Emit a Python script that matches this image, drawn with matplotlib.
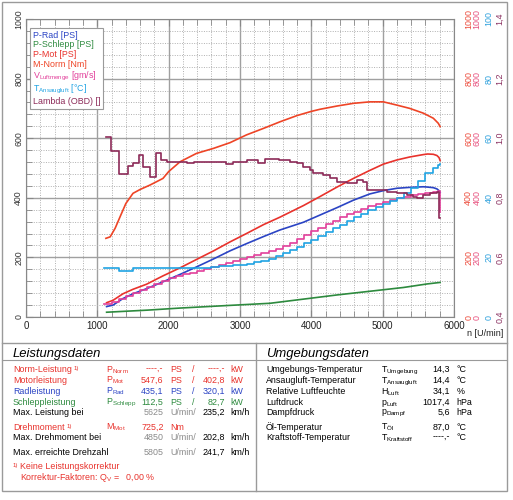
import numpy as np
import matplotlib.pyplot as plt
from matplotlib.lines import Line2D
from matplotlib.patches import Rectangle
from matplotlib.ticker import MultipleLocator, FixedLocator, FuncFormatter

plt.rcParams['font.family'] = ['Liberation Sans', 'DejaVu Sans']
plt.rcParams['mathtext.default'] = 'regular'

# ---- curve data (n in U/min) ----
rpm_m = [1120, 1180, 1250, 1320, 1400, 1500, 1600, 1740, 1920, 2000, 2160, 2390, 2630, 2860,
         3090, 3330, 3560, 3800, 4000, 4120, 4360, 4590, 4820, 5010, 5200, 5380, 5570, 5710,
         5780, 5805]
m_norm = [264, 269, 298, 337, 381, 415, 428, 443, 465, 488, 521, 549, 566, 585,
          611, 633, 655, 676, 690, 697, 708, 717, 722, 722, 711, 700, 684, 667,
          650, 639]

rpm_p = [1130, 1220, 1360, 1500, 1690, 1920, 2160, 2390, 2630, 2860, 3090, 3330, 3560, 3890,
         4120, 4360, 4590, 4820, 5010, 5200, 5380, 5570, 5630, 5710, 5760, 5790, 5805]
p_mot = [48, 56, 78, 93, 110, 138, 165, 193, 222, 252, 280, 310, 335, 374,
         404, 436, 465, 492, 513, 527, 537, 545, 547, 546, 542, 535, 525]
p_rad = [35, 40, 62, 78, 95, 118, 143, 168, 195, 222, 246, 270, 292, 318,
         342, 367, 392, 413, 424, 432, 435, 437, 436, 434, 430, 424, 418]

rpm_s = [1130, 1700, 2160, 2860, 3420, 4360, 5290, 5625, 5805]
p_schlepp = [16, 23, 30, 39, 46, 74, 99, 111, 116]

rpm_step = list(np.arange(1100, 5800, 100)) + [5780, 5800]
luftmenge = [45, 50, 60, 72, 82, 92, 102, 112, 122, 130,
             137, 143, 148, 153, 160, 167, 174, 181, 188, 195,
             202, 208, 214, 220, 228, 238, 250, 262, 275, 288,
             300, 312, 323, 334, 344, 353, 362, 371, 380, 387,
             393, 399, 404, 408, 412, 416, 419, 422, 353]
t_ansaug = [16.3, 16.3, 15.4, 15.4, 16.3, 16.3, 16.3, 16.3, 16.3, 16.3,
            16.3, 16.3, 16.3, 16.3, 16.5, 16.8, 17.0, 17.2, 17.4, 17.6,
            17.9, 18.3, 18.8, 19.6, 20.4, 21.4, 22.5, 23.6, 24.8, 26.0,
            27.3, 28.5, 29.7, 31.0, 32.2, 33.4, 34.6, 35.8, 37.0, 38.0,
            39.0, 40.0, 41.6, 43.3, 45.8, 48.3, 50.0, 51.0, 51.3]

rpm_lam = [1120, 1190, 1300, 1430, 1500, 1590, 1645, 1740, 1820, 1890, 1970, 2250, 2350, 2800,
           2900, 3100, 3250, 3350, 3550, 3700, 3800, 3890, 3980, 4030, 4170, 4260, 4360, 4500,
           4640, 4730, 4780, 4960, 5060, 5200, 5340, 5430, 5480, 5570, 5660, 5760, 5790, 5800]
lam = [1.005, 0.958, 0.880, 0.907, 0.916, 0.943, 0.904, 0.869, 0.951, 0.927, 0.921, 0.916, 0.921, 0.915,
       0.921, 0.926, 0.916, 0.929, 0.926, 0.921, 0.916, 0.902, 0.893, 0.882, 0.876, 0.865, 0.854, 0.851,
       0.860, 0.854, 0.826, 0.826, 0.820, 0.815, 0.809, 0.804, 0.798, 0.809, 0.815, 0.820, 0.731, 0.731]

legend_labels = ['P-Rad [PS]', 'P-Schlepp [PS]', 'P-Mot [PS]', 'M-Norm [Nm]',
                 'V$_{Luftmenge}$ [gm/s]', 'T$_{Ansaugluft}$ [°C]', 'Lambda (OBD) []']

# ---- table data ----
perf_labels = ['Norm-Leistung', 'Motorleistung', 'Radleistung', 'Schleppleistung',
               'Max. Leistung bei', 'Drehmoment', 'Max. Drehmoment bei', 'Max. erreichte Drehzahl']
perf_symbols = ['P$_{Norm}$', 'P$_{Mot}$', 'P$_{Rad}$', 'P$_{Schlepp}$', '', 'M$_{Mot}$', '', '']
perf_values = ['----,-', '547,6', '435,1', '112,5', '5625', '725,2', '4850', '5805']
perf_units = ['PS', 'PS', 'PS', 'PS', 'U/min/', 'Nm', 'U/min/', 'U/min/']
perf_values2 = ['----,-', '402,8', '320,1', '82,7', '235,2', '', '202,8', '241,7']
perf_units2 = ['kW', 'kW', 'kW', 'kW', 'km/h', '', 'km/h', 'km/h']

env_labels = ['Umgebungs-Temperatur', 'Ansaugluft-Temperatur', 'Relative Luftfeuchte', 'Luftdruck',
              'Dampfdruck', 'Öl-Temperatur', 'Kraftstoff-Temperatur']
env_symbols = ['T$_{Umgebung}$', 'T$_{Ansaugluft}$', 'H$_{Luft}$', 'p$_{Luft}$', 'p$_{Dampf}$',
               'T$_{Öl}$', 'T$_{Kraftstoff}$']
env_values = ['14,3', '14,4', '34,1', '1017,4', '5,6', '87,0', '----,-']
env_units = ['°C', '°C', '%', 'hPa', 'hPa', '°C', '°C']

RED = '#e8322c'
TORQ = '#ee4426'
BLUE = '#2b44c4'
GREEN = '#2d8a3e'
PINK = '#e2409b'
CYAN = '#1fa3e3'
LAMC = '#8c2a58'
GRAY = '#8a8a8a'
FRAME = '#9a9a9a'

W, H = 513, 500


def fx(px):
    return px / W


def fy(py):
    return 1 - py / H


fig = plt.figure(figsize=(W / 100, H / 100), dpi=100)
ax = fig.add_axes([fx(26), fy(317), fx(454) - fx(26), fy(19) - fy(317)])
ax.set_xlim(0, 6000)
ax.set_ylim(0, 1000)
ax.xaxis.set_major_locator(MultipleLocator(1000))
ax.xaxis.set_minor_locator(MultipleLocator(200))
ax.yaxis.set_major_locator(MultipleLocator(200))
ax.yaxis.set_minor_locator(MultipleLocator(40))
ax.grid(which='major', color='#a0a0a0', lw=1.0, ls='-')
ax.grid(which='minor', color='#b0b0b0', lw=0.7, ls=(0, (1, 1.5)))
ax.set_axisbelow(True)
ax.tick_params(which='both', direction='in', top=True, right=True, color='#888888')
ax.tick_params(which='major', length=5)
ax.tick_params(which='minor', length=4)
ax.tick_params(axis='x', labelsize=7, pad=3, labelcolor='#222222')
ax.tick_params(axis='y', labelsize=6.3, pad=2, labelcolor='#333333', labelrotation=90)
plt.setp(ax.get_yticklabels(), va='center')
for s in ax.spines.values():
    s.set_color('#888888')

ax.plot(rpm_m, m_norm, color=TORQ, lw=1.2)
ax.plot(rpm_p, p_mot, color=RED, lw=1.2)
ax.plot(rpm_p, p_rad, color=BLUE, lw=1.2)
ax.plot(rpm_s, p_schlepp, color=GREEN, lw=1.2)


def side_axis(pad, color, lo, hi, ticks, fmt):
    t = ax.twinx()
    t.set_ylim(lo, hi)
    t.yaxis.set_major_locator(FixedLocator(ticks))
    t.yaxis.set_major_formatter(FuncFormatter(fmt))
    t.tick_params(axis='y', length=0, pad=pad, labelsize=6.4, labelcolor=color, labelrotation=90)
    plt.setp(t.get_yticklabels(), va='center')
    for s in t.spines.values():
        s.set_visible(False)
    return t


int_fmt = lambda v, p: f'{v:.0f}'
ax_red = side_axis(7.3, '#ec4a3a', 0, 1000, [0, 200, 400, 600, 800, 1000], int_fmt)
ax_pink = side_axis(13.3, '#e8507e', 0, 1000, [0, 200, 400, 600, 800, 1000], int_fmt)
ax_temp = side_axis(21.8, '#2a9fdc', 0, 100, [0, 20, 40, 60, 80, 100], int_fmt)
ax_lam = side_axis(29.8, '#8a3060', 0.4, 1.4, [0.4, 0.6, 0.8, 1.0, 1.2, 1.4],
                   lambda v, p: f'{v:.1f}'.replace('.', ','))

ax_pink.plot(rpm_step, luftmenge, color=PINK, lw=1.2, drawstyle='steps-post')
ax_temp.plot(rpm_step, t_ansaug, color=CYAN, lw=1.2, drawstyle='steps-post')
ax_lam.plot(rpm_lam, lam, color=LAMC, lw=1.2, drawstyle='steps-post')

colors = [BLUE, GREEN, RED, TORQ, PINK, CYAN, LAMC]
handles = [Line2D([], [], color=c, lw=0) for c in colors]
leg = ax_lam.legend(handles, legend_labels, loc='upper left', bbox_to_anchor=(0.009, 0.97),
                    borderaxespad=0, handlelength=0, handletextpad=0, fontsize=6.4,
                    labelspacing=0.08, borderpad=0.3, fancybox=False, framealpha=1,
                    edgecolor=FRAME)
leg.get_frame().set_linewidth(0.8)
for txt, c in zip(leg.get_texts(), colors):
    txt.set_color(c)

fig.text(fx(503), fy(334), 'n [U/min]', ha='right', va='center', fontsize=6.5, color='#222222')

# ---- frames ----
fig.add_artist(Rectangle((fx(2), fy(491)), fx(507) - fx(2), fy(2) - fy(491),
                         transform=fig.transFigure, fill=False, edgecolor=FRAME, lw=1))
fig.add_artist(Line2D([fx(2), fx(507)], [fy(343), fy(343)], color=FRAME, lw=1))
fig.add_artist(Line2D([fx(2), fx(507)], [fy(360), fy(360)], color=FRAME, lw=0.8))
fig.add_artist(Line2D([fx(255.5), fx(255.5)], [fy(343), fy(491)], color=FRAME, lw=1))

fig.text(fx(13), fy(356.5), 'Leistungsdaten', fontsize=9.4, style='italic', va='baseline')
fig.text(fx(266), fy(356.5), 'Umgebungsdaten', fontsize=9.4, style='italic', va='baseline')

# ---- Leistungsdaten ----
row_colors = [RED, RED, BLUE, GREEN, 'black', RED, 'black', 'black']
rows_y = [369.3, 380, 390.7, 401.7, 411.7, 426.7, 437.3, 451.7]
fs = 6.4
for i, y in enumerate(rows_y):
    c = row_colors[i]
    b = fy(y + 3)
    vc = c if c != 'black' else GRAY
    fig.text(fx(13), b, perf_labels[i], color=c, fontsize=fs, va='baseline')
    fig.text(fx(106), b, perf_symbols[i], color=c, fontsize=fs, va='baseline')
    fig.text(fx(163.5), b, perf_values[i], color=vc, fontsize=fs, va='baseline', ha='right')
    fig.text(fx(170), b, perf_units[i], color=vc, fontsize=fs, va='baseline')
    if i < 4:
        fig.text(fx(193), b, '/', color=c, fontsize=fs, va='baseline', ha='center')
    fig.text(fx(225), b, perf_values2[i], color=c, fontsize=fs, va='baseline', ha='right')
    fig.text(fx(230.5), b, perf_units2[i], color=c, fontsize=fs, va='baseline')

fig.text(fx(74), fy(369.3 + 1), '1)', color=RED, fontsize=4.3, va='baseline')
fig.text(fx(67), fy(426.7 + 1), '1)', color=RED, fontsize=4.3, va='baseline')
fig.text(fx(13), fy(466 + 1), '1)', color=RED, fontsize=4.3, va='baseline')
fig.text(fx(20), fy(466 + 3), 'Keine Leistungskorrektur', color=RED, fontsize=fs, va='baseline')
fig.text(fx(20), fy(476.5 + 3), 'Korrektur-Faktoren: Q$_{V}$ =   0,00 %', color=RED,
         fontsize=fs, va='baseline')

# ---- Umgebungsdaten ----
env_y = [369.3, 380, 391, 401.7, 411.7, 426.7, 437.3]
for i, y in enumerate(env_y):
    b = fy(y + 3)
    fig.text(fx(266), b, env_labels[i], fontsize=fs, va='baseline')
    fig.text(fx(381), b, env_symbols[i], fontsize=fs, va='baseline')
    fig.text(fx(449.7), b, env_values[i], fontsize=fs, va='baseline', ha='right')
    fig.text(fx(456.3), b, env_units[i], fontsize=fs, va='baseline')

fig.savefig('out.png', dpi=100)
